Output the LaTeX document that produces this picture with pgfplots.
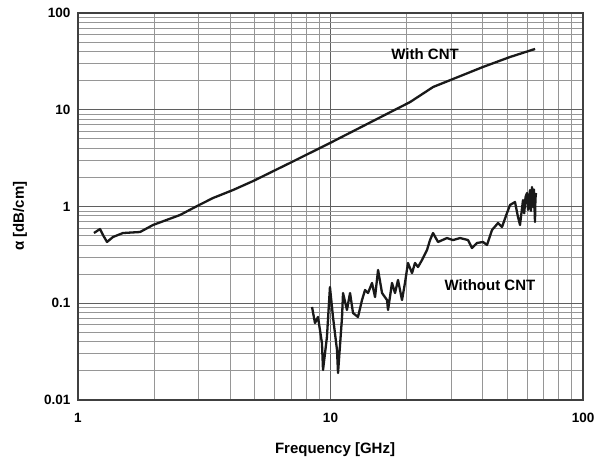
\documentclass[border=0pt]{standalone}
\usepackage{fontspec}
\setmainfont{Liberation Sans}
\usepackage{pgfplots}
\pgfplotsset{compat=1.18}
\definecolor{majgrid}{RGB}{95,95,95}
\definecolor{mingrid}{RGB}{150,150,150}
\begin{document}
\begin{tikzpicture}
\useasboundingbox (-78pt,-66pt) rectangle (523pt,400pt);
\begin{axis}[
  at={(0pt,0pt)}, anchor=south west,
  scale only axis, width=505pt, height=387pt,
  xmode=log, ymode=log,
  xmin=1, xmax=100, ymin=0.01, ymax=100,
  xtick={1,10,100}, xticklabels={1,10,100},
  ytick={0.01,0.1,1,10,100}, yticklabels={0.01,0.1,1,10,100},
  /pgf/number format/assume math mode=true,
  major tick length=0pt, minor tick length=0pt,
  grid=both,
  major grid style={color=majgrid, line width=1.1pt},
  minor grid style={color=mingrid, line width=0.8pt},
  axis line style={color=black!75, line width=1.5pt},
  tick label style={font=\bfseries\fontsize{13.5}{15}\selectfont},
  xticklabel style={anchor=center, yshift=-18pt},
  yticklabel style={anchor=east, xshift=-4pt},
  xlabel={\bfseries Frequency [GHz]},
  ylabel={\bfseries α [dB/cm]},
  label style={font=\bfseries\fontsize{15}{18}\selectfont},
  xlabel style={at={(axis description cs:0.509,-0.129)}, anchor=center},
  ylabel style={at={(axis description cs:-0.115,0.475)}, anchor=center},
]
\addplot[black!90, line width=2.3pt, line join=round] coordinates {
(1.157,0.532)(1.222,0.585)(1.256,0.507)(1.303,0.430)(1.376,0.484)(1.507,0.532)
(1.761,0.545)(1.982,0.644)(2.535,0.817)(2.96,1.01)(3.425,1.224)(4.11,1.48)
(4.93,1.83)(6.91,2.82)(9.95,4.53)(14.34,7.38)(20.65,12.0)(25.5,17.2)
(40.2,27.7)(51.4,35.1)(64.6,42.5)
};
\addplot[black!90, line width=2.3pt, line join=round] coordinates {
(8.45,0.0915)(8.68,0.0625)(8.92,0.0721)(9.25,0.0388)(9.34,0.0204)(9.68,0.0448)
(9.95,0.147)(10.23,0.0721)(10.61,0.0329)(10.71,0.019)(11.11,0.0721)(11.21,0.1276)
(11.62,0.0852)(11.95,0.1276)(12.28,0.0793)(12.85,0.0721)(13.33,0.108)(13.70,0.137)
(14.08,0.1276)(14.60,0.162)(15.01,0.116)(15.43,0.221)(16.00,0.1276)(16.74,0.108)
(16.90,0.0852)(17.52,0.162)(18.01,0.1276)(18.51,0.174)(19.20,0.108)(19.72,0.162)
(20.27,0.261)(21.03,0.205)(21.61,0.261)(22.21,0.237)(23.04,0.280)(24.11,0.355)
(24.78,0.450)(25.47,0.532)(26.66,0.430)(28.93,0.472)(30.56,0.450)(32.58,0.472)
(35.04,0.450)(36.34,0.372)(38.04,0.420)(40.18,0.430)(41.67,0.400)(43.62,0.572)
(46.07,0.675)(47.78,0.614)(50.00,0.857)(51.39,1.036)(53.79,1.113)(55.28,0.779)
(56.30,0.644)(57.86,1.167)(58.5,0.85)(59.2,1.25)(60.01,1.379)(60.57,0.920)
(61.0,1.10)(61.67,1.48)(62.2,0.90)(62.81,1.59)(63.39,0.988)(63.9,1.50)
(64.55,0.692)(64.8,1.2)(65.15,1.379)
};
\node[font=\bfseries\fontsize{15}{18}\selectfont] at (axis cs:23.7,37.7) {With CNT};
\node[font=\bfseries\fontsize{15}{18}\selectfont] at (axis cs:42.8,0.154) {Without CNT};
\end{axis}
\end{tikzpicture}
\end{document}
